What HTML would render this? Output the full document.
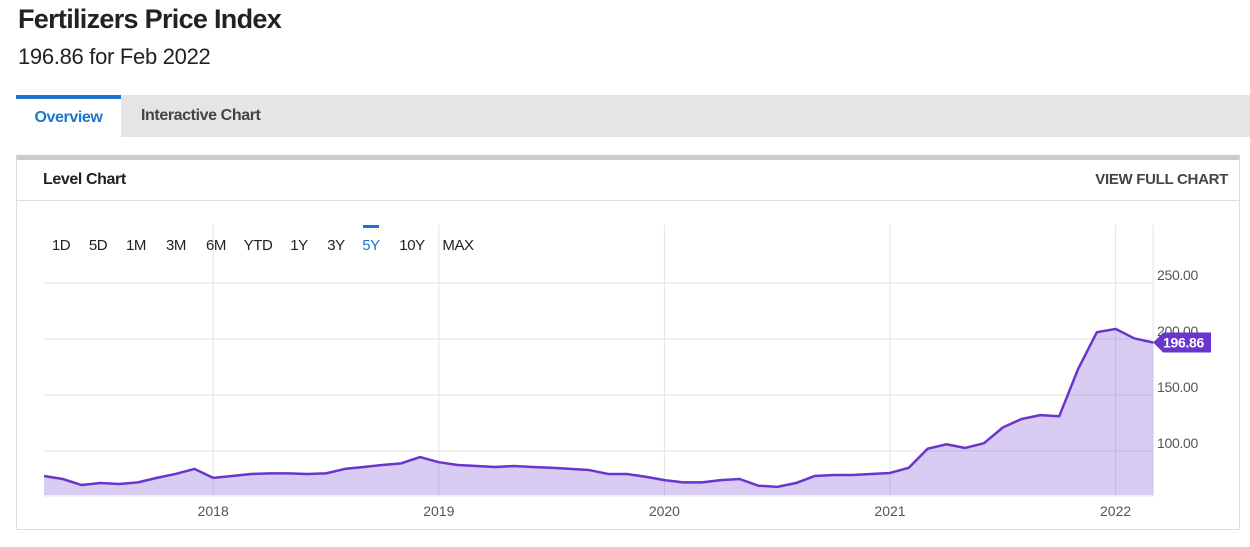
<!DOCTYPE html>
<html><head><meta charset="utf-8"><style>
body{margin:0;width:1250px;height:547px;background:#fff;font-family:"Liberation Sans",sans-serif;position:relative;overflow:hidden;color:#222}
.a{position:absolute}
</style></head><body>
<div class="a" style="left:18px;top:4px;font-size:27px;font-weight:bold;letter-spacing:-0.7px">Fertilizers Price Index</div>
<div class="a" style="left:18px;top:44px;font-size:22px;letter-spacing:-0.3px">196.86 for Feb 2022</div>
<div class="a" style="left:16px;top:95px;width:1234px;height:42px;background:#e5e5e5"></div>
<div class="a" style="left:16px;top:95px;width:105px;height:42px;background:#fff;border-top:4px solid #1a75cf;box-sizing:border-box;color:#1a75cf;font-weight:bold;font-size:16px;letter-spacing:-0.4px;text-align:center;line-height:38px">Overview</div>
<div class="a" style="left:141px;top:95px;height:42px;line-height:42px;font-weight:bold;font-size:16px;letter-spacing:-0.4px;color:#444">Interactive Chart</div>
<div class="a" style="left:16px;top:155px;width:1224px;height:375px;border:1px solid #ddd;border-top:5px solid #ccc;box-sizing:border-box"></div>
<div class="a" style="left:43px;top:171px;font-weight:bold;font-size:16px;letter-spacing:-0.4px">Level Chart</div>
<div class="a" style="right:22px;top:171px;font-weight:bold;font-size:15px;letter-spacing:-0.3px;color:#444">VIEW FULL CHART</div>
<div class="a" style="left:17px;top:200px;width:1222px;height:1px;background:#ddd"></div>
<svg class="a" style="left:0;top:0" width="1250" height="547" id="svg"></svg>
<script>
const ticks=[100,150,200,250];
const years=["2018","2019","2020","2021","2022"];
const values=[77.7,75,69.6,71.4,70.5,72,76,79.5,84,76,77.7,79.5,80,80,79.5,80,84,85.7,87.5,89,94.6,90,87.5,86.6,85.7,86.6,85.7,85,84,83,79.5,79.5,77,74,72,72,74,75,69,68,71.4,77.7,78.6,78.6,79.5,80.4,85,102,106,102.7,107,121,128.6,132,131,173,206,209,200.5,196.86];
const ranges=["1D","5D","1M","3M","6M","YTD","1Y","3Y","5Y","10Y","MAX"];
const NS="http://www.w3.org/2000/svg",svg=document.getElementById('svg');
const X0=44,STEP=18.8,yv=v=>339-(v-200)*1.12,xi=i=>X0+i*STEP;
const xYear=k=>X0+(9+12*k)*STEP;
function el(t,a,p){const e=document.createElementNS(NS,t);for(const k in a)e.setAttribute(k,a[k]);(p||svg).appendChild(e);return e;}
const R=xi(values.length-1);
ticks.forEach(t=>{const l=el('line',{x1:X0,x2:R,y1:yv(t),y2:yv(t),stroke:'#e3e3e3'});


const tx=el('text',{x:1157,y:yv(t)-3,'font-size':14,fill:'#555','font-family':'Liberation Sans','letter-spacing':'-0.3'});tx.textContent=t.toFixed(2);

});
years.forEach((y,k)=>{const x=xYear(k);const l=el('line',{x1:x,x2:x,y1:225,y2:496,stroke:'#e3e3e3'});


const tx=el('text',{x:x,y:516,'font-size':14,fill:'#555','text-anchor':'middle','font-family':'Liberation Sans'});tx.textContent=y;

});
el('line',{x1:R,x2:R,y1:225,y2:496,stroke:'#e3e3e3'});
el('line',{x1:X0,x2:R,y1:496,y2:496,stroke:'#e3e3e3'});
let d='';values.forEach((v,i)=>{d+=(i?'L':'M')+xi(i)+','+yv(v);});
const area=el('path',{d:d+'L'+R+',495L'+X0+',495Z',fill:'#7e57d6','fill-opacity':0.3});


const line=el('path',{d:d,fill:'none',stroke:'#6a35cc','stroke-width':2.5,'stroke-linejoin':'round'});


const lv=values[values.length-1],ly=yv(lv);
const tag=el('path',{d:`M${R},${ly}L${R+10},${ly-10}H1211V${ly+10}H${R+10}Z`,fill:'#6a35cc'});


const tt=el('text',{x:1163,y:ly+5,'font-size':14,'font-weight':'bold',fill:'#fff','font-family':'Liberation Sans','letter-spacing':'-0.3'});tt.textContent=lv.toFixed(2);


const rx=[61,98,136,176,216,258,299,336,371,412,458];
ranges.forEach((r,i)=>{const t=el('text',{x:rx[i],y:250,'font-size':15,'text-anchor':'middle',fill:r==='5Y'?'#1a75cf':'#222','font-family':'Liberation Sans','letter-spacing':'-0.4'});t.textContent=r;


if(r==='5Y'){el('rect',{x:rx[i]-8,y:225,width:16,height:3,fill:'#1a75cf'});}});
</script>
</body></html>
